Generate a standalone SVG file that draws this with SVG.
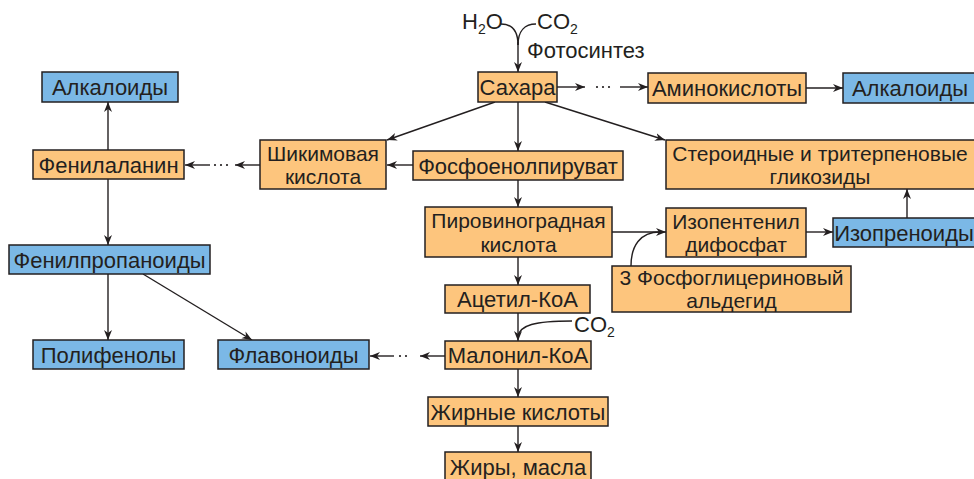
<svg xmlns="http://www.w3.org/2000/svg" width="974" height="479" viewBox="0 0 974 479">
<defs>
<marker id="ah" markerWidth="11" markerHeight="9" refX="10" refY="4" orient="auto" markerUnits="userSpaceOnUse">
<path d="M0,0 L10,4 L0,8 L3,4 z" fill="#231f20"/>
</marker>
<style>
text{font-family:"Liberation Sans",Arial,sans-serif;font-size:22px;fill:#231f20}
.c{text-anchor:middle}
.t{font-size:21px}
.o{fill:#fdc57d;stroke:#231f20;stroke-width:1.5}
.b{fill:#7bb8e6;stroke:#231f20;stroke-width:1.5}
.l{fill:none;stroke:#231f20;stroke-width:1.4}
.a{marker-end:url(#ah)}
.d{fill:none;stroke:#231f20;stroke-width:2.2;stroke-linecap:round;stroke-dasharray:0 6}
</style>
</defs>
<rect width="974" height="479" fill="#ffffff"/>

<g id="connectors">
<path class="l" d="M501,24 C512,24 518,31 518,45"/>
<path class="l" d="M536,24 C525,24 518,31 518,45"/>
<path class="l a" d="M518,42 L518,72"/>
<path class="l a" d="M557,87 L585,87"/>
<path class="d" d="M597,87 L610,87"/>
<path class="l a" d="M620,87 L648,87"/>
<path class="l a" d="M806,88 L843,88"/>
<path class="l a" d="M495,102 L387,140"/>
<path class="l a" d="M518,102 L518,151"/>
<path class="l a" d="M545,102 L665,140"/>
<path class="l a" d="M413,165 L387,165"/>
<path class="l a" d="M260,165 L235,165"/>
<path class="d" d="M215,165 L228,165"/>
<path class="l a" d="M210,165 L185,165"/>
<path class="l a" d="M108,150 L108,102"/>
<path class="l a" d="M108,179 L108,245"/>
<path class="l a" d="M108,274 L108,340"/>
<path class="l a" d="M143,274 L252,340"/>
<path class="l a" d="M518,180 L518,207"/>
<path class="l a" d="M612,232 L666,232"/>
<path class="l" d="M631,266 C631,246 640,232 660,232"/>
<path class="l a" d="M806,232 L833,232"/>
<path class="l a" d="M907,218 L907,189"/>
<path class="l a" d="M518,257 L518,285"/>
<path class="l a" d="M518,313 L518,341"/>
<path class="l" d="M572,321 C535,321 519,325 518,337"/>
<path class="l a" d="M445,356 L420,356"/>
<path class="d" d="M400,356 L412,356"/>
<path class="l a" d="M394,356 L370,356"/>
<path class="l a" d="M518,369 L518,397"/>
<path class="l a" d="M518,426 L518,452"/>
</g>

<g id="labels">
<text x="462" y="29" font-size="20">H<tspan font-size="14" dy="5">2</tspan><tspan dy="-5">O</tspan></text>
<text x="537" y="29" font-size="20">CO<tspan font-size="14" dy="5">2</tspan></text>
<text x="527" y="58">Фотосинтез</text>
<text x="574" y="332" font-size="20">CO<tspan font-size="14" dy="5">2</tspan></text>
</g>

<g id="n-sahara"><rect class="o" x="478" y="72" width="79" height="30"/><text class="c" x="517.5" y="95">Сахара</text></g>
<g id="n-amino"><rect class="o" x="648" y="73" width="158" height="30"/><text class="c" x="727" y="96">Аминокислоты</text></g>
<g id="n-alk-r"><rect class="b" x="843" y="73" width="134" height="30"/><text class="c" x="910" y="96">Алкалоиды</text></g>
<g id="n-alk-l"><rect class="b" x="42" y="72" width="136" height="30"/><text class="c" x="110" y="95">Алкалоиды</text></g>
<g id="n-phenylalanine"><rect class="o" x="33" y="150" width="151" height="29"/><text class="c" x="108.5" y="172.5">Фенилаланин</text></g>
<g id="n-shikimic"><rect class="o" x="260" y="140" width="126" height="49"/><text class="c t" x="323" y="160.5">Шикимовая<tspan x="323" dy="23.5">кислота</tspan></text></g>
<g id="n-pep"><rect class="o" x="413" y="151" width="210" height="29"/><text class="c" x="518" y="173.5">Фосфоенолпируват</text></g>
<g id="n-steroid"><rect class="o" x="666" y="140" width="310" height="49"/><text class="c t" x="820" y="160.5">Стероидные и тритерпеновые<tspan x="820" dy="23.5">гликозиды</tspan></text></g>
<g id="n-pyruvic"><rect class="o" x="425" y="207" width="187" height="50"/><text class="c t" x="518.5" y="228">Пировиноградная<tspan x="518.5" dy="23.5">кислота</tspan></text></g>
<g id="n-ipp"><rect class="o" x="666" y="208" width="140" height="49"/><text class="c t" x="736" y="228.5">Изопентенил<tspan x="736" dy="23.5">дифосфат</tspan></text></g>
<g id="n-isoprenoids"><rect class="b" x="833" y="218" width="143" height="29"/><text class="c" x="904" y="240.5">Изопреноиды</text></g>
<g id="n-pga"><rect class="o" x="612" y="266" width="239" height="46"/><text class="c t" x="731.5" y="284.5">3 Фосфоглицериновый<tspan x="731.5" dy="23.5">альдегид</tspan></text></g>
<g id="n-acetyl"><rect class="o" x="445" y="285" width="145" height="28"/><text class="c" x="517.5" y="307">Ацетил-КоА</text></g>
<g id="n-malonyl"><rect class="o" x="445" y="341" width="146" height="28"/><text class="c" x="518" y="363">Малонил-КоА</text></g>
<g id="n-fattyacids"><rect class="o" x="428" y="397" width="180" height="29"/><text class="c" x="518" y="419.5">Жирные кислоты</text></g>
<g id="n-fats"><rect class="o" x="445" y="452" width="146" height="30"/><text class="c" x="518" y="475">Жиры, масла</text></g>
<g id="n-phenylpropanoids"><rect class="b" x="9" y="245" width="201" height="29"/><text class="c" x="109.5" y="267.5">Фенилпропаноиды</text></g>
<g id="n-polyphenols"><rect class="b" x="33" y="340" width="151" height="29"/><text class="c" x="108.5" y="362.5">Полифенолы</text></g>
<g id="n-flavonoids"><rect class="b" x="218" y="340" width="151" height="29"/><text class="c" x="293.5" y="362.5">Флавоноиды</text></g>
</svg>
